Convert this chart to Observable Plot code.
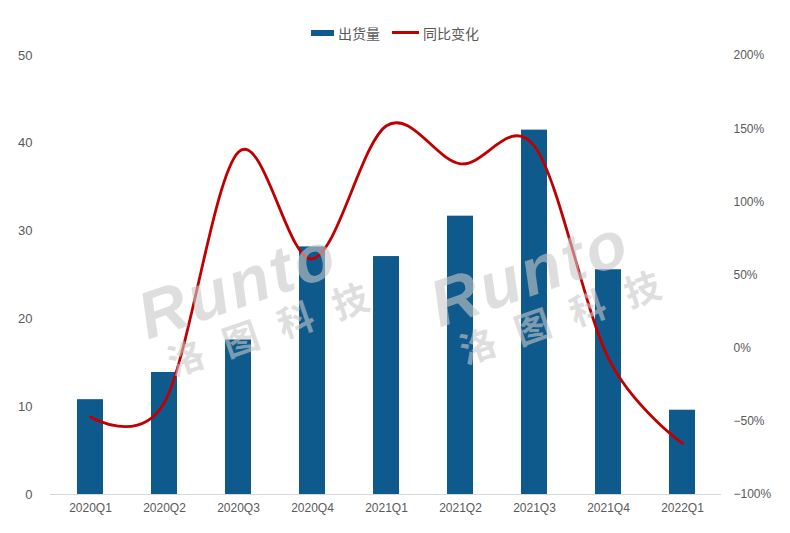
<!DOCTYPE html>
<html>
<head>
<meta charset="utf-8">
<script src="https://cdn.jsdelivr.net/npm/d3@7"></script>
<script src="https://cdn.jsdelivr.net/npm/@observablehq/plot@0.6"></script>
<style>
  html, body { margin: 0; padding: 0; background: #fff; }
  body { width: 790px; height: 533px; position: relative; overflow: hidden;
         font-family: "Liberation Sans", Arial, "Noto Sans CJK SC", sans-serif; }
  #legend { height: 45px; box-sizing: border-box; padding-top: 20px; display: flex; justify-content: center;
            gap: 12px; font-size: 14px; color: #595959; line-height: 16px; font-family: "Noto Sans CJK SC", sans-serif; }
  .item { display: flex; align-items: center; gap: 4px; }
  .sw-bar { width: 23px; height: 6px; background: #0f5a8c; display: inline-block; }
  .sw-line { width: 27px; height: 3px; background: #c00000; display: inline-block; }
  .wm { position: absolute; color: rgba(200,200,200,0.6); pointer-events: none; white-space: nowrap; }
  .wm .en { font: italic 700 66px "Liberation Sans", Arial, sans-serif; letter-spacing: 3px; }
  .wm .cn { font: 700 36px "Noto Sans CJK SC", sans-serif; letter-spacing: 22px; margin-left: 12px; margin-top: -14px; }
</style>
</head>
<body>
<div id="legend">
  <span class="item"><span class="sw-bar"></span><span>出货量</span></span>
  <span class="item"><span class="sw-line"></span><span>同比变化</span></span>
</div>
<div id="chart"></div>
<script>
const quarters = ["2020Q1","2020Q2","2020Q3","2020Q4","2021Q1","2021Q2","2021Q3","2021Q4","2022Q1"];
const shipments = [10.8, 13.9, 17.6, 28.2, 27.1, 31.7, 41.5, 25.6, 9.6];
const yoyPct = [-47, -37, 134, 61, 152, 126, 138, -7, -65];
const leftTicks = [0, 10, 20, 30, 40, 50];
const rightTicks = [-100, -50, 0, 50, 100, 150, 200];
const watermarkEn = "Runto";
const watermarkCn = "洛图科技";

const pctMin = -100, pctMax = 200, yMax = 50;
const toY = p => (p - pctMin) / (pctMax - pctMin) * yMax;
const fromY = y => Math.round(y / yMax * (pctMax - pctMin) + pctMin);

const rows = quarters.map((q, i) => ({q, v: shipments[i], p: yoyPct[i]}));

const chart = Plot.plot({
  width: 790,
  height: 488,
  marginTop: 10,
  marginBottom: 39,
  marginLeft: 50,
  marginRight: 69,
  style: {fontFamily: '"Liberation Sans", Arial, sans-serif', color: "#595959", background: "transparent"},
  x: {type: "band", domain: quarters, paddingInner: 0.65, paddingOuter: 0.325},
  y: {domain: [0, yMax]},
  marks: [
    Plot.barY(rows, {x: "q", y: "v", fill: "#0f5a8c"}),
    Plot.ruleY([0], {stroke: "#d9d9d9", strokeWidth: 1}),
    Plot.lineY(rows, {x: "q", y: d => toY(d.p), stroke: "#c00000", strokeWidth: 2.8, curve: "cardinal"}),
    Plot.axisX({tickSize: 0, tickPadding: 9, fontSize: 12, label: null, fill: "#595959"}),
    Plot.axisY(leftTicks, {anchor: "left", tickSize: 0, tickPadding: 18, fontSize: 13, label: null, fill: "#595959"}),
    Plot.axisY(rightTicks.map(toY), {anchor: "right", tickSize: 0, tickPadding: 12, fontSize: 12, label: null,
      fill: "#595959", tickFormat: y => (fromY(y) < 0 ? "\u2212" + Math.abs(fromY(y)) : fromY(y)) + "%"})
  ]
});
document.getElementById("chart").appendChild(chart);

// faint source watermark
[[128, 282], [420, 270]].forEach(([l, t]) => {
  const w = document.createElement("div");
  w.className = "wm";
  w.style.left = l + "px";
  w.style.top = t + "px";
  w.style.transform = "rotate(-19deg)";
  w.style.transformOrigin = "left top";
  w.innerHTML = `<div class="en">${watermarkEn}</div><div class="cn">${watermarkCn}</div>`;
  document.body.appendChild(w);
});
</script>
</body>
</html>
